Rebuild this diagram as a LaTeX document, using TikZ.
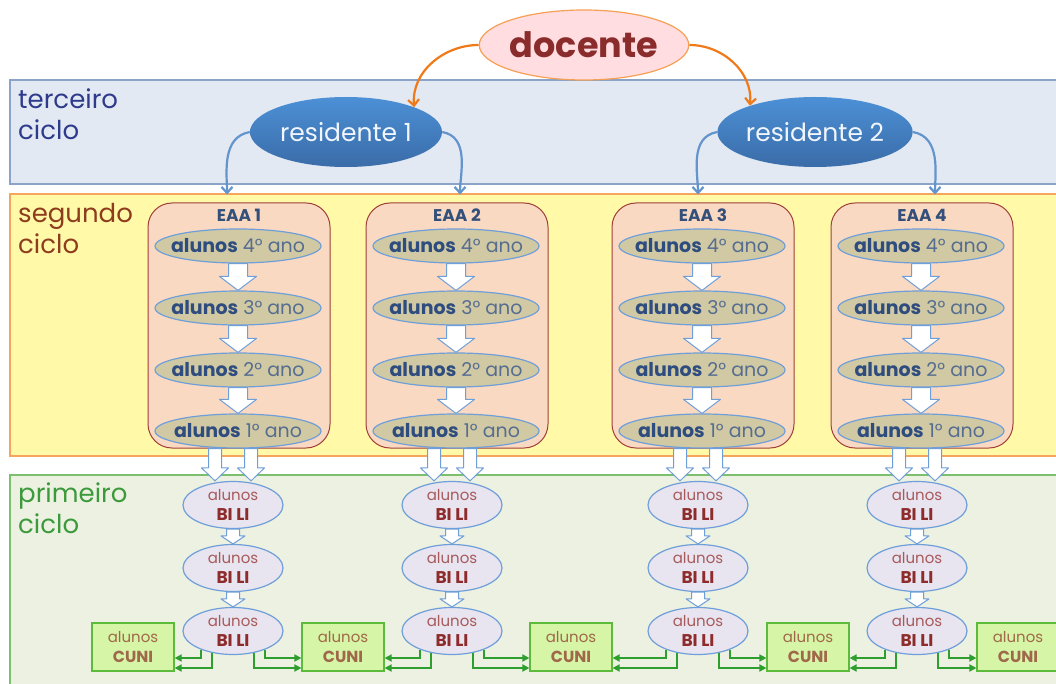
\documentclass[tikz,border=0pt]{standalone}
\usepackage{fontspec}
\setmainfont{Poppins}
\usepackage{tikz}
\usetikzlibrary{arrows.meta}
\usetikzlibrary{calc}
\usetikzlibrary{positioning}
\usetikzlibrary{shapes}

\definecolor{tercfill}{HTML}{E2E9F3}
\definecolor{tercline}{HTML}{8AA3C6}
\definecolor{terctext}{HTML}{2E3A8C}
\definecolor{segfill}{HTML}{FFF9A8}
\definecolor{segline}{HTML}{F5A55C}
\definecolor{segtext}{HTML}{8E3C1E}
\definecolor{primfill}{HTML}{ECF1E1}
\definecolor{primline}{HTML}{7CC06E}
\definecolor{primtext}{HTML}{3C9A3C}
\definecolor{docfill}{HTML}{FFDDE0}
\definecolor{docline}{HTML}{F5A055}
\definecolor{doctext}{HTML}{8A2C2C}
\definecolor{docarrow}{HTML}{F07A1A}
\definecolor{restop}{HTML}{4C90D6}
\definecolor{resbot}{HTML}{3A6CA8}
\definecolor{resarrow}{HTML}{6394CC}
\definecolor{eaafill}{HTML}{FAD9C2}
\definecolor{eaaline}{HTML}{A0403A}
\definecolor{eaatext}{HTML}{34507A}
\definecolor{anofill}{HTML}{D0C9A4}
\definecolor{blueline}{HTML}{6F9FD8}
\definecolor{anobold}{HTML}{2E4C7E}
\definecolor{anotext}{HTML}{566D90}
\definecolor{bilifill}{HTML}{E8E4F0}
\definecolor{bilitext}{HTML}{A85A5A}
\definecolor{bilibold}{HTML}{8E2C2C}
\definecolor{cunifill}{HTML}{D6F5A6}
\definecolor{cuniline}{HTML}{5DBB3C}
\definecolor{cunitext}{HTML}{A0684A}
\definecolor{linkgreen}{HTML}{2E9E2E}

\tikzset{
  band/.style={line width=1.2pt},
  cyclabel/.style={anchor=west, align=left, inner sep=0pt, font=\fontsize{26}{31}\selectfont},
  docnode/.style={ellipse, draw=docline, fill=docfill, line width=1.2pt, minimum width=200, minimum height=70, inner sep=0pt, text=doctext, font=\fontsize{35}{40}\selectfont\bfseries},
  resnode/.style={ellipse, top color=restop, bottom color=resbot, minimum width=192, minimum height=70, inner sep=0pt, text=white!92!restop, font=\fontsize{25}{30}\selectfont},
  eaabox/.style={rectangle, rounded corners=24pt, draw=eaaline, fill=eaafill, line width=1pt, minimum width=182, minimum height=245},
  eaatitle/.style={inner sep=0pt, text=eaatext, font=\fontsize{17}{20}\selectfont\bfseries},
  anonode/.style={ellipse, draw=blueline, fill=anofill, line width=1.2pt, minimum width=166, minimum height=34, inner xsep=-40pt, inner ysep=0pt, text=anotext, font=\fontsize{19}{22}\selectfont},
  bilinode/.style={ellipse, draw=blueline, fill=bilifill, line width=1.2pt, minimum width=100, minimum height=47, inner xsep=-12pt, inner ysep=-4pt, align=center, text=bilitext, font=\fontsize{15}{20}\selectfont},
  cuninode/.style={rectangle, draw=cuniline, fill=cunifill, line width=1.2pt, minimum width=82, minimum height=48, inner sep=0pt, align=center, text=cunitext, font=\fontsize{15}{20}\selectfont},
  blockarrow/.style={draw=blueline, fill=white, line width=1pt, line join=round},
  docpath/.style={draw=docarrow, line width=2.2pt},
  respath/.style={draw=resarrow, line width=2.2pt, shorten >=8pt},
  cunilink/.style={draw=linkgreen, line width=2pt, -{Triangle[length=7pt,width=7pt]}}
}

% white block arrow pointing down: top point, bottom point, half shaft, half head, head length
\newcommand{\blockdown}[5]{%
  \draw[blockarrow] let \p1=#1, \p2=#2 in
    (\x1-#3,\y1) -- (\x1+#3,\y1) -- (\x1+#3,\y2+#5) -- (\x1+#4,\y2+#5)
    -- (\x1,\y2) -- (\x1-#4,\y2+#5) -- (\x1-#3,\y2+#5) -- cycle;}

\begin{document}
\begin{tikzpicture}[x=1pt,y=-1pt,>={Straight Barb[length=6pt,width=11pt]}]
    \useasboundingbox (0,0) rectangle (1056,684);

    % Draw bands
    \draw[band, draw=tercline, fill=tercfill] (10,80) rectangle (1070,184);
    \draw[band, draw=segline, fill=segfill] (10,194) rectangle (1070,456);
    \draw[band, draw=primline, fill=primfill] (10,475) rectangle (1070,700);

    % cycle labels
    \node[cyclabel, text=terctext] (lterc) at (18,114) {terceiro\\ciclo};
    \node[cyclabel, text=segtext] (lseg) at (18,228) {segundo\\ciclo};
    \node[cyclabel, text=primtext] (lprim) at (18,508) {primeiro\\ciclo};

    % docente and residentes
    \node[docnode] (doc) at (584,45) {docente};
    \node[resnode] (r1) at (346,132) {residente 1};
    \node[resnode] (r2) at (815,132) {residente 2};

    % CUNI boxes
    \foreach \k/\x in {1/133, 2/343, 3/571, 4/808, 5/1018}
        \node[cuninode] (cuni\k) at (\x,647) {alunos\\{\fontsize{16}{20}\selectfont\bfseries CUNI}};

    % EAA columns
    \foreach \c/\xe/\xb [evaluate=\c as \n using int(\c+1)] in {1/239/233, 2/457/452, 3/703/698, 4/922/917}{
        \node[eaabox] (eaa\c) at (\xe,325.5) {};
        \node[eaatitle] (tit\c) at (\xe,215) {EAA \c};
        \foreach \yr/\y in {4/246, 3/308, 2/370, 1/431}
            \node[anonode] (ano\c-\yr) at (\xe-1,\y) {\textcolor{anobold}{\bfseries alunos} {\yr}° ano};
        \blockdown{(ano\c-4.south)}{(ano\c-3.north)}{9.5pt}{18.5pt}{14pt}
        \blockdown{(ano\c-3.south)}{(ano\c-2.north)}{9.5pt}{18.5pt}{14pt}
        \blockdown{(ano\c-2.south)}{(ano\c-1.north)}{9.5pt}{18.5pt}{14pt}

        \foreach \k/\y in {1/505, 2/568, 3/631}
            \node[bilinode] (bili\c-\k) at (\xb,\y) {alunos\\{\fontsize{17}{20}\selectfont\bfseries\color{bilibold}BI LI}};
        \blockdown{($(bili\c-1.north |- eaa\c.south)+(-18,0)$)}{(bili\c-1.north)}{6.5pt}{13.5pt}{13pt}
        \blockdown{($(bili\c-1.north |- eaa\c.south)+(18,0)$)}{(bili\c-1.north)}{6.5pt}{13.5pt}{13pt}
        \blockdown{(bili\c-1.south)}{(bili\c-2.north)}{6.5pt}{12pt}{8pt}
        \blockdown{(bili\c-2.south)}{(bili\c-3.north)}{6.5pt}{12pt}{8pt}

        % links to CUNI
        \draw[cunilink] (bili\c-3.210) |- ([yshift=-11pt]cuni\c.east);
        \draw[cunilink] (bili\c-3.226) |- ([yshift=-21pt]cuni\c.east);
        \draw[cunilink] (bili\c-3.330) |- ([yshift=-11pt]cuni\n.west);
        \draw[cunilink] (bili\c-3.314) |- ([yshift=-21pt]cuni\n.west);
    }

    % arrows from docente and residentes
    \draw[->, docpath] (doc.west) to[out=180,in=95] (r1.20);
    \draw[->, docpath] (doc.east) to[out=0,in=85] (r2.158);
    \draw[->, respath] (r1.west) to[out=190,in=90] ([xshift=-12pt]eaa1.north);
    \draw[->, respath] (r1.east) to[out=-10,in=90] ([xshift=3pt]eaa2.north);
    \draw[->, respath] (r2.west) to[out=190,in=90] ([xshift=-5pt]eaa3.north);
    \draw[->, respath] (r2.east) to[out=-10,in=90] ([xshift=13pt]eaa4.north);
\end{tikzpicture}
\end{document}
